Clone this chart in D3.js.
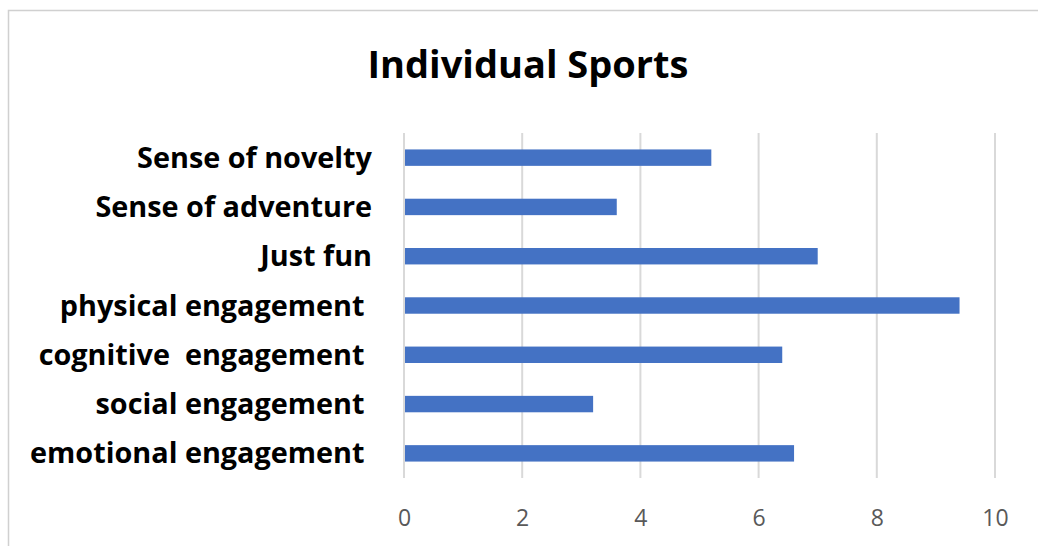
<!DOCTYPE html>
<html>
<head>
<meta charset="utf-8">
<script src="https://cdn.jsdelivr.net/npm/d3@7"></script>
<style>
  body { margin: 0; background: #fff; }
  svg text { white-space: pre; }
</style>
</head>
<body>
<div id="chart"></div>
<script>
// Chart data
const categories = [
    "Sense of novelty",
    "Sense of adventure",
    "Just fun",
    "physical engagement ",
    "cognitive  engagement ",
    "social engagement ",
    "emotional engagement "
];
const values = [5.2, 3.6, 7.0, 9.4, 6.4, 3.2, 6.6];
const xTicks = [0, 2, 4, 6, 8, 10];
const title = "Individual Sports";

const W = 1038, H = 546;
const margin = { top: 133, right: 43, bottom: 68, left: 404 };
const width = W - margin.left - margin.right;
const height = H - margin.top - margin.bottom;

const svg = d3.select("#chart")
    .append("svg")
    .attr("width", W)
    .attr("height", H);

// chart frame, runs past the right and bottom edges
svg.append("rect")
    .attr("x", 8.5)
    .attr("y", 10.5)
    .attr("width", 1040)
    .attr("height", 560)
    .attr("fill", "none")
    .attr("stroke", "#d0d0d0")
    .attr("stroke-width", 1.5);

svg.append("text")
    .attr("x", 528)
    .attr("y", 78)
    .attr("text-anchor", "middle")
    .style("font-family", "'Open Sans', sans-serif")
    .style("font-weight", "bold")
    .style("font-size", "38px")
    .style("fill", "#000")
    .text(title);

const g = svg.append("g")
    .attr("transform", `translate(${margin.left},${margin.top})`);

// scales
const xScale = d3.scaleLinear()
    .domain([0, 10])
    .range([0, width]);

const yScale = d3.scaleBand()
    .domain(categories)
    .range([0, height])
    .paddingInner(2 / 3)
    .paddingOuter(1 / 3);

// vertical gridlines
g.selectAll("line.grid")
    .data(xTicks)
    .enter()
    .append("line")
    .attr("class", "grid")
    .attr("x1", d => xScale(d))
    .attr("x2", d => xScale(d))
    .attr("y1", 0)
    .attr("y2", height)
    .attr("stroke", "#d9d9d9")
    .attr("stroke-width", 2);

// bars
g.selectAll("rect.bar")
    .data(values)
    .enter()
    .append("rect")
    .attr("class", "bar")
    .attr("x", xScale(0) + 1)
    .attr("y", (d, i) => yScale(categories[i]))
    .attr("width", d => xScale(d) - xScale(0) - 1)
    .attr("height", yScale.bandwidth())
    .attr("fill", "#4472c4");

// x axis labels
const xAxis = d3.axisBottom(xScale)
    .tickValues(xTicks)
    .tickSize(0)
    .tickPadding(0);

const xg = g.append("g")
    .attr("transform", `translate(0,${height})`)
    .call(xAxis);
xg.select(".domain").remove();
xg.selectAll("text")
    .attr("y", 40)
    .attr("dy", "0.35em")
    .style("font-family", "'Open Sans', sans-serif")
    .style("font-size", "23px")
    .style("fill", "#595959");

// category labels
const yAxis = d3.axisLeft(yScale)
    .tickSize(0)
    .tickPadding(0);

const yg = g.append("g")
    .call(yAxis);
yg.select(".domain").remove();
yg.selectAll("text")
    .attr("x", -32)
    .attr("dy", "0.35em")
    .style("font-family", "'Open Sans', sans-serif")
    .style("font-weight", "bold")
    .style("font-size", "28.8px")
    .style("fill", "#000");
</script>
</body>
</html>
